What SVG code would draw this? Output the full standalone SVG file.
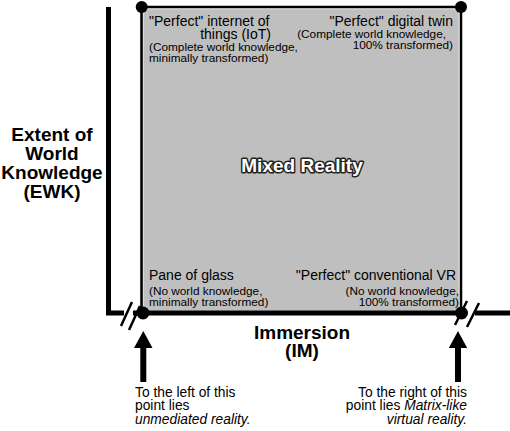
<svg xmlns="http://www.w3.org/2000/svg" width="510" height="431" viewBox="0 0 510 431">
<style>
text{font-family:"Liberation Sans",Arial,Helvetica,sans-serif;fill:#000}
.ax{font-size:19px;font-weight:bold;text-anchor:middle}
.t{font-size:14px}
.s{font-size:11.8px}
.b{font-size:13.8px}
.r{text-anchor:end}
.i{font-style:italic}
.mr{font-size:19px;font-weight:bold;text-anchor:middle;fill:#fff;stroke:#222;stroke-width:3;paint-order:stroke;stroke-linejoin:round}
.axis{stroke:#000;stroke-width:5;fill:none}
.brk{stroke:#000;stroke-width:2.5;fill:none}
</style>
<rect width="510" height="431" fill="#fff"/>
<g id="region">
<rect x="141.5" y="7" width="319.5" height="306" rx="4" fill="#bfbfbf" stroke="#000" stroke-width="2.5"/>
<rect x="143.5" y="9" width="315.5" height="302" rx="3" fill="none" stroke="#dcdcdc" stroke-width="1"/>
<text class="mr" x="302" y="172">Mixed Reality</text>
</g>
<g id="connectors">
<polyline class="axis" points="108.5,7 108.5,313 124,313"/>
<line class="axis" x1="133" y1="313" x2="457" y2="313"/>
<line class="axis" x1="475" y1="313" x2="510" y2="313"/>
<line class="brk" x1="121" y1="326" x2="132" y2="302"/>
<line class="brk" x1="129" y1="330" x2="140" y2="306"/>
<line class="brk" x1="455" y1="325" x2="467" y2="301"/>
<line class="brk" x1="467" y1="327" x2="479" y2="303"/>
<path d="M143.3,331 L152.5,348 L146.3,348 L146.3,382 L140.3,382 L140.3,348 L134,348 Z" fill="#000"/>
<path d="M458,331 L467.2,348 L461,348 L461,382 L455,382 L455,348 L448.8,348 Z" fill="#000"/>
</g>
<g id="corner-tl">
<circle cx="141.7" cy="7" r="6" fill="#000"/>
<text class="t"><tspan x="149" y="26">"Perfect" internet of</tspan><tspan class="r" x="271" y="38.5">things (IoT)</tspan><tspan class="s" x="149" y="50.5">(Complete world knowledge,</tspan><tspan class="s" x="149" y="62">minimally transformed)</tspan></text>
</g>
<g id="corner-tr">
<circle cx="461" cy="7" r="6" fill="#000"/>
<text class="t r"><tspan x="453" y="26">"Perfect" digital twin</tspan><tspan class="s" x="446" y="38">(Complete world knowledge,</tspan><tspan class="s" x="453" y="49">100% transformed)</tspan></text>
</g>
<g id="corner-bl">
<circle cx="143" cy="313" r="6.5" fill="#000"/>
<text class="t"><tspan x="149" y="280">Pane of glass</tspan><tspan class="s" x="149" y="294.5">(No world knowledge,</tspan><tspan class="s" x="149" y="306">minimally transformed)</tspan></text>
</g>
<g id="corner-br">
<circle cx="461.5" cy="313" r="6.5" fill="#000"/>
<text class="t r"><tspan x="456" y="280">"Perfect" conventional VR</tspan><tspan class="s" x="459" y="294.5">(No world knowledge,</tspan><tspan class="s" x="459" y="306">100% transformed)</tspan></text>
</g>
<g id="axis-ewk">
<text class="ax"><tspan x="52" y="140.5">Extent of</tspan><tspan x="52" y="159.5">World</tspan><tspan x="52" y="178.5">Knowledge</tspan><tspan x="52" y="197.5">(EWK)</tspan></text>
</g>
<g id="axis-im">
<text class="ax"><tspan x="302" y="338.5">Immersion</tspan><tspan x="302" y="357">(IM)</tspan></text>
</g>
<g id="note-left">
<text class="b"><tspan x="135" y="396.5">To the left of this</tspan><tspan x="135" y="410">point lies</tspan><tspan class="i" x="135" y="423.5">unmediated reality.</tspan></text>
</g>
<g id="note-right">
<text class="b r"><tspan x="467" y="396.5">To the right of this</tspan><tspan x="467" y="410">point lies <tspan class="i">Matrix-like</tspan></tspan><tspan class="i" x="467" y="423.5">virtual reality.</tspan></text>
</g>
</svg>
